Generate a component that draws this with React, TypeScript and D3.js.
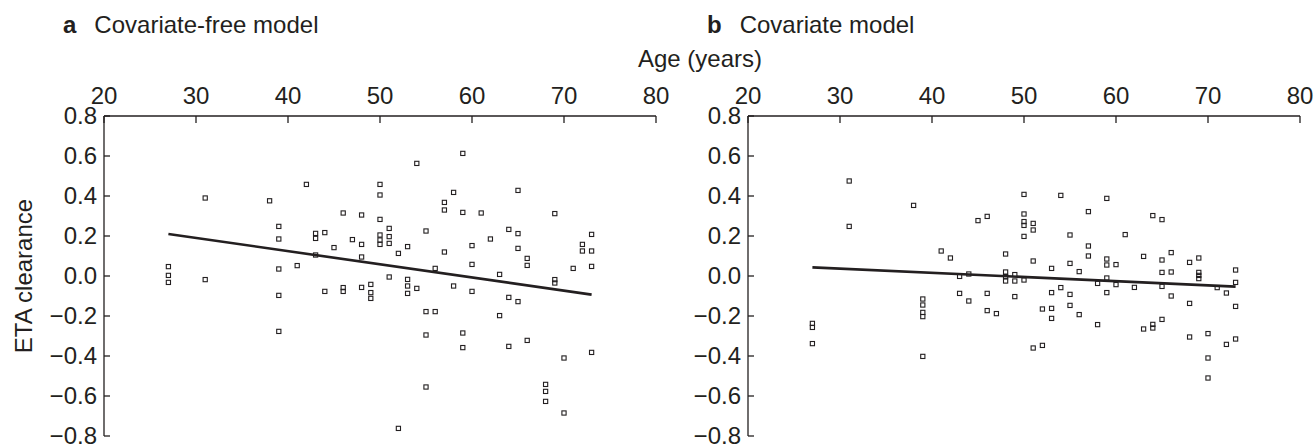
import React from "react";
import * as d3 from "d3";

const xTicks = [20, 30, 40, 50, 60, 70, 80];
const yTicks = [0.8, 0.6, 0.4, 0.2, 0.0, -0.2, -0.4, -0.6, -0.8];

const ageA = [27,27,27,31,31,38,39,39,39,39,39,41,42,43,43,43,44,44,45,46,46,46,47,48,48,48,48,49,49,49,50,50,50,50,50,50,51,51,51,51,52,52,53,53,53,53,54,54,55,55,55,55,56,56,57,57,57,58,58,59,59,59,59,60,60,60,61,62,63,63,64,64,64,65,65,65,65,66,66,66,68,68,68,69,69,69,70,70,71,72,72,73,73,73,73];
const etaA = [0.047,0.003,-0.032,0.39,-0.018,0.376,0.248,0.185,0.035,-0.097,-0.277,0.052,0.458,0.213,0.188,0.105,0.217,-0.077,0.142,0.315,-0.058,-0.077,0.182,0.305,0.158,0.095,-0.057,-0.042,-0.083,-0.112,0.458,0.405,0.283,0.205,0.18,0.158,0.238,0.197,0.163,-0.005,0.113,-0.762,0.147,-0.017,-0.05,-0.087,0.563,-0.062,0.225,-0.178,-0.295,-0.555,0.038,-0.178,0.368,0.33,0.12,0.418,-0.05,0.613,0.318,-0.285,-0.358,0.152,0.058,-0.077,0.315,0.185,0.008,-0.198,0.233,-0.107,-0.352,0.428,0.212,0.138,-0.128,0.088,0.053,-0.322,-0.542,-0.577,-0.627,0.312,-0.018,-0.035,-0.41,-0.685,0.038,0.158,0.125,0.208,0.125,0.048,-0.382];

const ageB = [27,27,27,31,31,38,39,39,39,39,39,41,42,43,43,44,44,45,46,46,46,47,48,48,48,48,49,49,49,50,50,50,50,50,50,51,51,51,51,52,52,53,53,53,53,54,54,55,55,55,55,56,56,57,57,57,58,58,59,59,59,59,59,60,60,61,62,63,63,64,64,64,65,65,65,65,65,66,66,66,68,68,68,69,69,69,69,70,70,70,71,72,72,73,73,73,73];
const etaB = [-0.237,-0.257,-0.338,0.475,0.248,0.353,-0.115,-0.145,-0.182,-0.203,-0.402,0.125,0.09,-0.002,-0.087,0.01,-0.125,0.277,0.298,-0.087,-0.173,-0.188,0.11,0.02,-0.003,-0.025,0.007,-0.025,-0.103,0.408,0.31,0.272,0.253,0.198,-0.02,0.263,0.23,0.075,-0.36,-0.165,-0.347,0.038,-0.083,-0.162,-0.212,0.403,-0.058,0.205,0.063,-0.092,-0.147,0.022,-0.193,0.322,0.15,0.1,-0.037,-0.243,0.388,0.085,0.055,-0.01,-0.083,0.057,-0.043,0.207,-0.057,0.098,-0.265,0.302,-0.242,-0.26,0.282,0.08,0.018,-0.052,-0.217,0.117,0.02,-0.1,0.068,-0.137,-0.305,0.09,0.018,0.003,-0.013,-0.288,-0.41,-0.51,-0.058,-0.085,-0.342,0.03,-0.032,-0.152,-0.315];

const fitAgeA = [27, 73];
const fitEtaA = [0.21, -0.093];
const fitAgeB = [27, 73];
const fitEtaB = [0.043, -0.053];

const FONT = "'Liberation Sans', Arial, Helvetica, sans-serif";
const FS = 24;
const INK = "#231f20";

type PanelProps = {
  left: number;
  letter: string;
  title: string;
  ages: number[];
  etas: number[];
  fitAge: number[];
  fitEta: number[];
  showYLabel: boolean;
};

function Panel({ left, letter, title, ages, etas, fitAge, fitEta, showYLabel }: PanelProps) {
  const x = d3.scaleLinear().domain([20, 80]).range([left, left + 552]);
  const y = d3.scaleLinear().domain([-0.8, 0.8]).range([436, 116]);
  const line = d3
    .line<number>()
    .x((_, i) => x(fitAge[i]))
    .y((d) => y(d));
  const fmt = (v: number) => (v < 0 ? "\u2212" + Math.abs(v).toFixed(1) : v.toFixed(1));
  const s = 4.2;
  return (
    <g>
      <text x={left - 41} y={33} fontFamily={FONT} fontSize={FS} fill={INK}>
        <tspan fontWeight="bold">{letter}</tspan>
        <tspan dx={18}>{title}</tspan>
      </text>
      {showYLabel && (
        <text
          transform={`translate(32,${y(0)}) rotate(-90)`}
          textAnchor="middle"
          fontFamily={FONT}
          fontSize={FS}
          fill={INK}
        >
          ETA clearance
        </text>
      )}
      <line x1={left} x2={left + 552} y1={116} y2={116} stroke={INK} strokeWidth={1.3} />
      <line x1={left} x2={left} y1={116} y2={436} stroke={INK} strokeWidth={1.3} />
      {xTicks.map((t) => (
        <g key={"x" + t}>
          <line x1={x(t)} x2={x(t)} y1={116} y2={123} stroke={INK} strokeWidth={1.3} />
          <text x={x(t)} y={104} textAnchor="middle" fontFamily={FONT} fontSize={FS} fill={INK}>
            {t}
          </text>
        </g>
      ))}
      {yTicks.map((t) => (
        <g key={"y" + t}>
          <line x1={left} x2={left + 6} y1={y(t)} y2={y(t)} stroke={INK} strokeWidth={1.3} />
          <text
            x={left - 7}
            y={y(t)}
            dy="0.34em"
            textAnchor="end"
            fontFamily={FONT}
            fontSize={FS}
            fill={INK}
          >
            {fmt(t)}
          </text>
        </g>
      ))}
      {ages.map((a, i) => (
        <rect
          key={"p" + i}
          x={x(a) - s / 2}
          y={y(etas[i]) - s / 2}
          width={s}
          height={s}
          fill="none"
          stroke={INK}
          strokeWidth={1.1}
        />
      ))}
      <path d={line(fitEta) || ""} fill="none" stroke={INK} strokeWidth={2.6} />
    </g>
  );
}

export default function App() {
  return (
    <svg
      width={1316}
      height={444}
      style={{ position: "absolute", left: 0, top: 0, background: "#fff" }}
    >
      <rect width={1316} height={444} fill="#fff" />
      <Panel
        left={104}
        letter="a"
        title="Covariate-free model"
        ages={ageA}
        etas={etaA}
        fitAge={fitAgeA}
        fitEta={fitEtaA}
        showYLabel={true}
      />
      <Panel
        left={748}
        letter="b"
        title="Covariate model"
        ages={ageB}
        etas={etaB}
        fitAge={fitAgeB}
        fitEta={fitEtaB}
        showYLabel={false}
      />
      <text x={700} y={67} textAnchor="middle" fontFamily={FONT} fontSize={FS} fill={INK}>
        Age (years)
      </text>
    </svg>
  );
}
